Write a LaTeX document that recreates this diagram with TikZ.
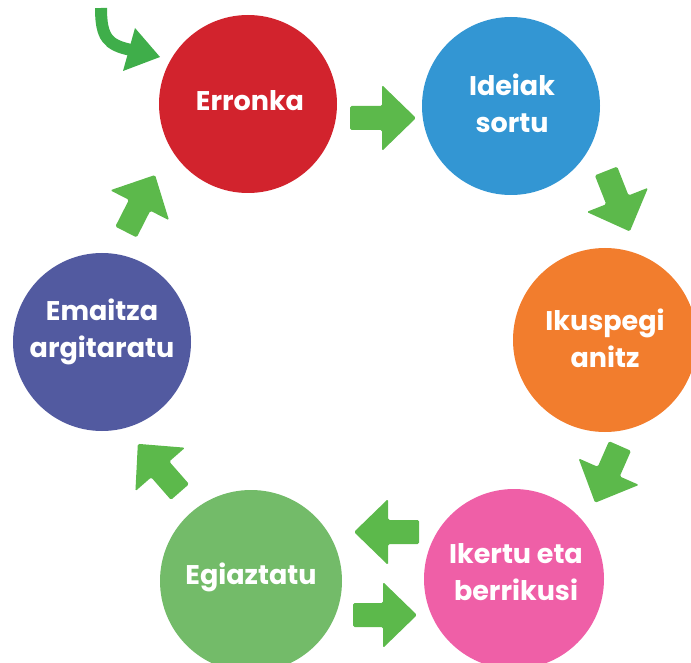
\documentclass[tikz,border=0pt]{standalone}
\usepackage{fontspec}
\setmainfont{Poppins}
\definecolor{cred}{HTML}{D2232D}
\definecolor{cblue}{HTML}{3396D3}
\definecolor{corange}{HTML}{F27D2D}
\definecolor{cpink}{HTML}{EF5FA7}
\definecolor{cgreen}{HTML}{73BB69}
\definecolor{cpurple}{HTML}{525AA0}
\definecolor{arrgreen}{HTML}{5CB94B}
\definecolor{darkarr}{HTML}{3FAE4A}
\tikzset{
  circ/.style={circle, inner sep=0pt, minimum size=178pt, text=white,
    font=\bfseries\fontsize{27}{37}\selectfont, align=center},
  lbl/.style={inner sep=0pt, text=white,
    font=\bfseries\fontsize{27}{37}\selectfont, align=center},
  blockarr/.style={fill=arrgreen, rounded corners=1.5pt},
}
\newcommand\blockarrow[3]{%
  \fill[blockarr, shift={(#1)}, rotate=#2]
    (0,-12) -- (#3-34,-12) -- (#3-34,-33) -- (#3,0) -- (#3-34,33)
    -- (#3-34,12) -- (0,12) -- cycle;}
\begin{document}
\begin{tikzpicture}[x=1pt,y=-1pt]
\useasboundingbox (0,0) rectangle (691,663);
\node[circ, fill=cred]    (erronka)   at (248,104) {};
\node[lbl] (erronkat) at (250,101) {Erronka};
\node[circ, fill=cblue]   (ideiak)    at (511,106) {};
\node[lbl] (ideiakt) at (512,103) {Ideiak\\sortu};
\node[circ, fill=corange, minimum size=184pt] (ikuspegi) at (605,340) {};
\node[lbl] (ikuspegit) at (605,338) {Ikuspegi\\anitz};
\node[circ, fill=cpink, minimum size=180pt]   (ikertu)   at (514,579) {};
\node[lbl] (ikertut) at (516,572) {Ikertu eta\\berrikusi};
\node[circ, fill=cgreen, minimum size=182pt]  (egiaztatu) at (251,581) {};
\node[lbl] (egiaztatut) at (251,577) {Egiaztatu};
\node[circ, fill=cpurple, minimum size=178pt] (emaitza)  at (102,342) {};
\node[lbl] (emaitzat) at (102,332) {Emaitza\\argitaratu};
% block arrows
\blockarrow{350,118}{0}{66}
\blockarrow{606,171}{-68.5}{65}
\blockarrow{620,446}{-113.7}{62}
\blockarrow{419,532}{180}{65}
\blockarrow{353,615}{0}{64}
\blockarrow{180,492}{131.2}{64}
\blockarrow{126,232}{63}{64}
% curved entry arrow
\coordinate (cstart) at (101,8);
\coordinate (cend) at (131,50);
\draw[darkarr, line width=12pt] (cstart) .. controls (101,38) and (108,45) .. (cend);
\fill[darkarr] (135,28) -- (160,57) -- (123,71) -- cycle;
\end{tikzpicture}
\end{document}
